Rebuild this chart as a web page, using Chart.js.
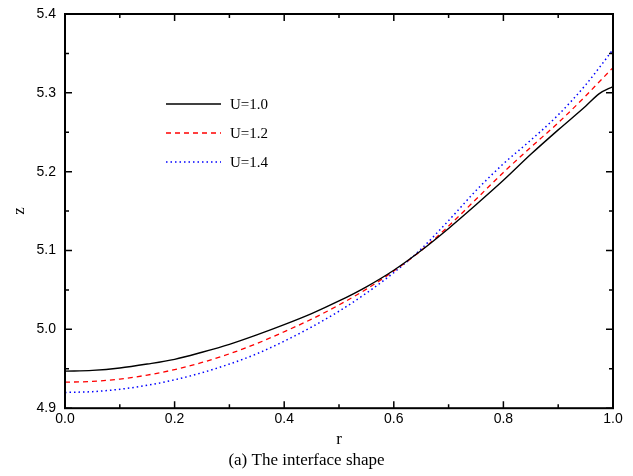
<!DOCTYPE html>
<html>
<head>
<meta charset="utf-8">
<script src="https://cdn.jsdelivr.net/npm/chart.js@4/dist/chart.umd.min.js"></script>
<style>
  body { margin: 0; background: #fff; }
  #wrap { width: 633px; height: 476px; }
</style>
</head>
<body>
<div id="wrap"><canvas id="shapeChart"></canvas></div>
<script>
// radius values (r) and interface height z for each U
const rValues = [0, 0.05, 0.1, 0.15, 0.2, 0.25, 0.3, 0.35, 0.4, 0.45, 0.5,
  0.55, 0.6, 0.65, 0.7, 0.75, 0.8, 0.85, 0.9, 0.95, 0.975, 1.0];
const zU10 = [4.947, 4.948, 4.951, 4.956, 4.962, 4.971, 4.981, 4.993, 5.006, 5.020, 5.036,
  5.054, 5.075, 5.100, 5.128, 5.158, 5.189, 5.222, 5.253, 5.283, 5.299, 5.308];
const zU12 = [4.933, 4.934, 4.937, 4.942, 4.949, 4.958, 4.969, 4.982, 4.997, 5.013, 5.031,
  5.051, 5.074, 5.100, 5.131, 5.165, 5.199, 5.231, 5.262, 5.296, 5.314, 5.332];
const zU14 = [4.920, 4.921, 4.924, 4.929, 4.936, 4.945, 4.956, 4.969, 4.985, 5.003, 5.023,
  5.046, 5.072, 5.102, 5.138, 5.176, 5.210, 5.240, 5.272, 5.310, 5.332, 5.355];
const seriesLabels = ["U=1.0", "U=1.2", "U=1.4"];
const xTicks = [0, 0.2, 0.4, 0.6, 0.8, 1.0];
const yTicks = [4.9, 5.0, 5.1, 5.2, 5.3, 5.4];

const toPoints = (zs) => rValues.map((r, i) => ({ x: r, y: zs[i] }));

// frame with inward ticks on all four sides
const frameTicks = {
  id: "frameTicks",
  afterDraw(chart) {
    const { ctx, chartArea: a, scales: { x, y } } = chart;
    ctx.save();
    ctx.strokeStyle = "#000";
    ctx.lineWidth = 2;
    ctx.strokeRect(a.left, a.top, a.right - a.left, a.bottom - a.top);
    ctx.lineWidth = 1.5;
    ctx.beginPath();
    const xMinor = xTicks.slice(1).map((v, i) => (v + xTicks[i]) / 2);
    const yMinor = yTicks.slice(1).map((v, i) => (v + yTicks[i]) / 2);
    const xMark = (v, len) => {
      const px = x.getPixelForValue(v);
      ctx.moveTo(px, a.bottom); ctx.lineTo(px, a.bottom - len);
      ctx.moveTo(px, a.top); ctx.lineTo(px, a.top + len);
    };
    const yMark = (v, len) => {
      const py = y.getPixelForValue(v);
      ctx.moveTo(a.left, py); ctx.lineTo(a.left + len, py);
      ctx.moveTo(a.right, py); ctx.lineTo(a.right - len, py);
    };
    xTicks.forEach(v => xMark(v, 7));
    xMinor.forEach(v => xMark(v, 4));
    yTicks.forEach(v => yMark(v, 7));
    yMinor.forEach(v => yMark(v, 4));
    ctx.stroke();
    ctx.restore();
  }
};

// legend drawn inside the plot, upper left
const innerLegend = {
  id: "innerLegend",
  afterDraw(chart) {
    const { ctx } = chart;
    const x0 = 166, y0 = 104, gap = 29;
    ctx.save();
    ctx.font = "15px 'Liberation Serif'";
    ctx.textBaseline = "middle";
    ctx.fillStyle = "#000";
    chart.data.datasets.forEach((ds, i) => {
      const yy = y0 + i * gap;
      ctx.beginPath();
      ctx.strokeStyle = ds.borderColor;
      ctx.lineWidth = ds.borderWidth;
      ctx.setLineDash(ds.borderDash || []);
      ctx.moveTo(x0, yy);
      ctx.lineTo(x0 + 55, yy);
      ctx.stroke();
      ctx.fillText(ds.label, x0 + 64, yy + 1);
    });
    ctx.restore();
  }
};

const ctx = document.getElementById("shapeChart").getContext("2d");
new Chart(ctx, {
  type: "scatter",
  data: {
    datasets: [
      {
        label: seriesLabels[0],
        data: toPoints(zU10),
        borderColor: "#000000",
        borderWidth: 1.4,
        showLine: true,
        pointRadius: 0,
        cubicInterpolationMode: "monotone",
      },
      {
        label: seriesLabels[1],
        data: toPoints(zU12),
        borderColor: "#ff0000",
        borderWidth: 1.3,
        borderDash: [5, 4],
        showLine: true,
        pointRadius: 0,
        cubicInterpolationMode: "monotone",
      },
      {
        label: seriesLabels[2],
        data: toPoints(zU14),
        borderColor: "#0000ff",
        borderWidth: 1.5,
        borderDash: [1.5, 3],
        showLine: true,
        pointRadius: 0,
        cubicInterpolationMode: "monotone",
      },
    ],
  },
  options: {
    responsive: true,
    maintainAspectRatio: false,
    animation: false,
    layout: { padding: { left: 0, right: 20, top: 14, bottom: 0 } },
    plugins: {
      legend: { display: false },
      tooltip: { enabled: false },
      title: {
        display: true,
        position: "bottom",
        text: "(a) The interface shape",
        color: "#000",
        font: { family: "'Liberation Serif'", size: 17, weight: "normal", lineHeight: 1 },
        padding: { top: 4, bottom: 7 },
      },
    },
    scales: {
      x: {
        type: "linear",
        min: 0,
        max: 1,
        afterBuildTicks: (s) => { s.ticks = xTicks.map(v => ({ value: v })); },
        grid: { display: false, drawTicks: false },
        border: { display: false },
        ticks: {
          color: "#000",
          padding: 3,
          maxRotation: 0,
          font: { family: "'Liberation Sans'", size: 14 },
          callback: (v) => v.toFixed(1),
        },
        title: {
          display: true,
          text: "r",
          color: "#000",
          font: { family: "'Liberation Serif'", size: 17, lineHeight: 1 },
          padding: { top: 0, bottom: 0 },
        },
      },
      y: {
        type: "linear",
        min: 4.9,
        max: 5.4,
        afterBuildTicks: (s) => { s.ticks = yTicks.map(v => ({ value: v })); },
        afterFit: (s) => { s.width = 65; s.paddingTop = 0; s.paddingBottom = 0; },
        grid: { display: false, drawTicks: false },
        border: { display: false },
        ticks: {
          color: "#000",
          padding: 9,
          font: { family: "'Liberation Sans'", size: 14 },
          callback: (v) => v.toFixed(1),
        },
        title: {
          display: true,
          text: "z",
          color: "#000",
          font: { family: "'Liberation Serif'", size: 17, lineHeight: 1 },
          padding: { top: 11, bottom: 0 },
        },
      },
    },
  },
  plugins: [frameTicks, innerLegend],
});
</script>
</body>
</html>
